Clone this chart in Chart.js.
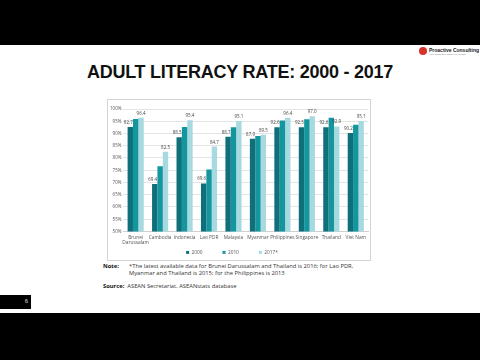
<!DOCTYPE html>
<html>
<head>
<meta charset="utf-8">
<script src="https://cdn.jsdelivr.net/npm/chart.js@4"></script>
<style>
  body { margin: 0; width: 480px; height: 360px; background: #000; overflow: hidden; font-family: "Liberation Sans", Arial, sans-serif; }
  #slide { position: absolute; left: 0; top: 45px; width: 480px; height: 268px; background: #fff; }
  #title { position: absolute; left: 0; top: 17px; width: 480px; text-align: center; font-weight: bold; font-size: 18px; letter-spacing: -0.25px; color: #111; }
  #box { position: absolute; left: 107px; top: 54px; width: 262px; height: 160px; border: 1px solid #d4d4d4; }
  #graphique { position: absolute; left: 0; top: 0; }
  .note { position: absolute; font-family: "Open Sans", sans-serif; font-size: 5.8px; color: #333; line-height: 7px; }
  .note b { color: #111; }
  #logo { position: absolute; left: 419px; top: 2px; }
  #logo .dot { position: absolute; left: 0; top: 0; width: 8px; height: 8px; border-radius: 50%; background: #d8332a; }
  #logo .name { position: absolute; left: 10px; top: 0px; font-size: 5px; white-space: nowrap; color: #222; font-weight: bold; }
  #logo .tag { position: absolute; left: 10px; top: 6px; font-size: 2.5px; white-space: nowrap; color: #888; }
  #num { position: absolute; left: 0; top: 250px; width: 31px; height: 14px; background: #000; }
  #num span { position: absolute; right: 3px; top: 3px; color: #ddd; font-size: 6px; }
</style>
</head>
<body>
<div id="slide">
  <div id="logo"><div class="dot"></div><div class="name">Proactive Consulting</div><div class="tag">Your Strategic Partner for Growth</div></div>
  <div id="title">ADULT LITERACY RATE: 2000 - 2017</div>
  <div id="box"><canvas id="graphique" width="262" height="160"></canvas></div>
  <div class="note" style="left:103px; top:218px;"><b>Note:</b></div>
  <div class="note" style="left:129px; top:218px; width:248px;">*The latest available data for Brunei Darussalam and Thailand is 2016; for Lao PDR, Myanmar and Thailand is 2015; for the Philippines is 2013</div>
  <div class="note" style="left:103px; top:238px;"><b>Source:</b>&nbsp; ASEAN Secretariat, ASEANstats database</div>
  <div id="num"><span>6</span></div>
</div>
<script>
const pays = [["Brunei", "Darussalam"], "Cambodia", "Indonesia", "Lao PDR", "Malaysia", "Myanmar", "Philippines", "Singapore", "Thailand", "Viet Nam"];
const annees = ["2000", "2010", "2017*"];
const taux2000 = [92.7, 69.4, 88.5, 69.6, 88.7, 87.9, 92.6, 92.5, 92.6, 90.2];
const taux2010 = [95.9, 76.6, 92.7, 75.3, 92.5, 89.0, 95.3, 95.8, 96.4, 93.6];
const taux2017 = [96.4, 82.5, 95.4, 84.7, 95.1, 89.5, 96.4, 97.0, 92.9, 95.1];
const couleurs = ["#0f6f7b", "#13969e", "#a6d9e0"];

// etiquettes au-dessus des barres 2000 et 2017
const etiquettes = {
    id: "etiquettes",
    afterDatasetsDraw(chart) {
        const ctx = chart.ctx;
        ctx.save();
        ctx.font = "4.5px 'Open Sans', sans-serif";
        ctx.fillStyle = "#444";
        ctx.textAlign = "center";
        ctx.textBaseline = "bottom";
        [0, 2].forEach(i => {
            chart.getDatasetMeta(i).data.forEach((bar, j) => {
                ctx.fillText(chart.data.datasets[i].data[j].toFixed(1), bar.x - (i === 0 ? 2 : 0), bar.y - 2);
            });
        });
        ctx.restore();
    }
};

// legende : grand espace horizontal mais peu de hauteur
const legendeCompacte = {
    id: "legendeCompacte",
    beforeInit(chart) {
        const fit = chart.legend.fit;
        chart.legend.fit = function() {
            fit.call(this);
            this.height = 10;
        };
    },
    afterLayout(chart) {
        const lg = chart.legend;
        lg.top -= 19;
        lg.height = lg.bottom - lg.top;
        lg.left -= 6;
        lg.right -= 6;
    }
};

new Chart(document.getElementById("graphique").getContext("2d"), {
    type: "bar",
    data: {
        labels: pays,
        datasets: [
            { label: annees[0], data: taux2000, backgroundColor: couleurs[0] },
            { label: annees[1], data: taux2010, backgroundColor: couleurs[1] },
            { label: annees[2], data: taux2017, backgroundColor: couleurs[2] }
        ]
    },
    options: {
        responsive: false,
        animation: false,
        layout: { padding: { left: 0, right: 2, top: 9, bottom: 1 } },
        datasets: { bar: { categoryPercentage: 0.66, barPercentage: 1.0 } },
        scales: {
            x: {
                grid: { display: false, drawTicks: false },
                border: { color: "#d0d0d0" },
                ticks: { color: "#555", font: { size: 4.8, family: "'Open Sans', sans-serif" }, maxRotation: 0, autoSkip: false, padding: 3 }
            },
            y: {
                min: 50, max: 100,
                grid: { color: "#e4e4e4", drawTicks: false },
                border: { display: false },
                ticks: { stepSize: 5, color: "#555", padding: 2, font: { size: 4.5, family: "'Open Sans', sans-serif" }, callback: v => v + "%" }
            }
        },
        plugins: {
            legend: {
                position: "bottom",
                labels: { boxWidth: 3, boxHeight: 3, padding: 20, color: "#555", font: { size: 4.8, family: "'Open Sans', sans-serif" } }
            },
            tooltip: { enabled: false }
        }
    },
    plugins: [etiquettes, legendeCompacte]
});
</script>
</body>
</html>
